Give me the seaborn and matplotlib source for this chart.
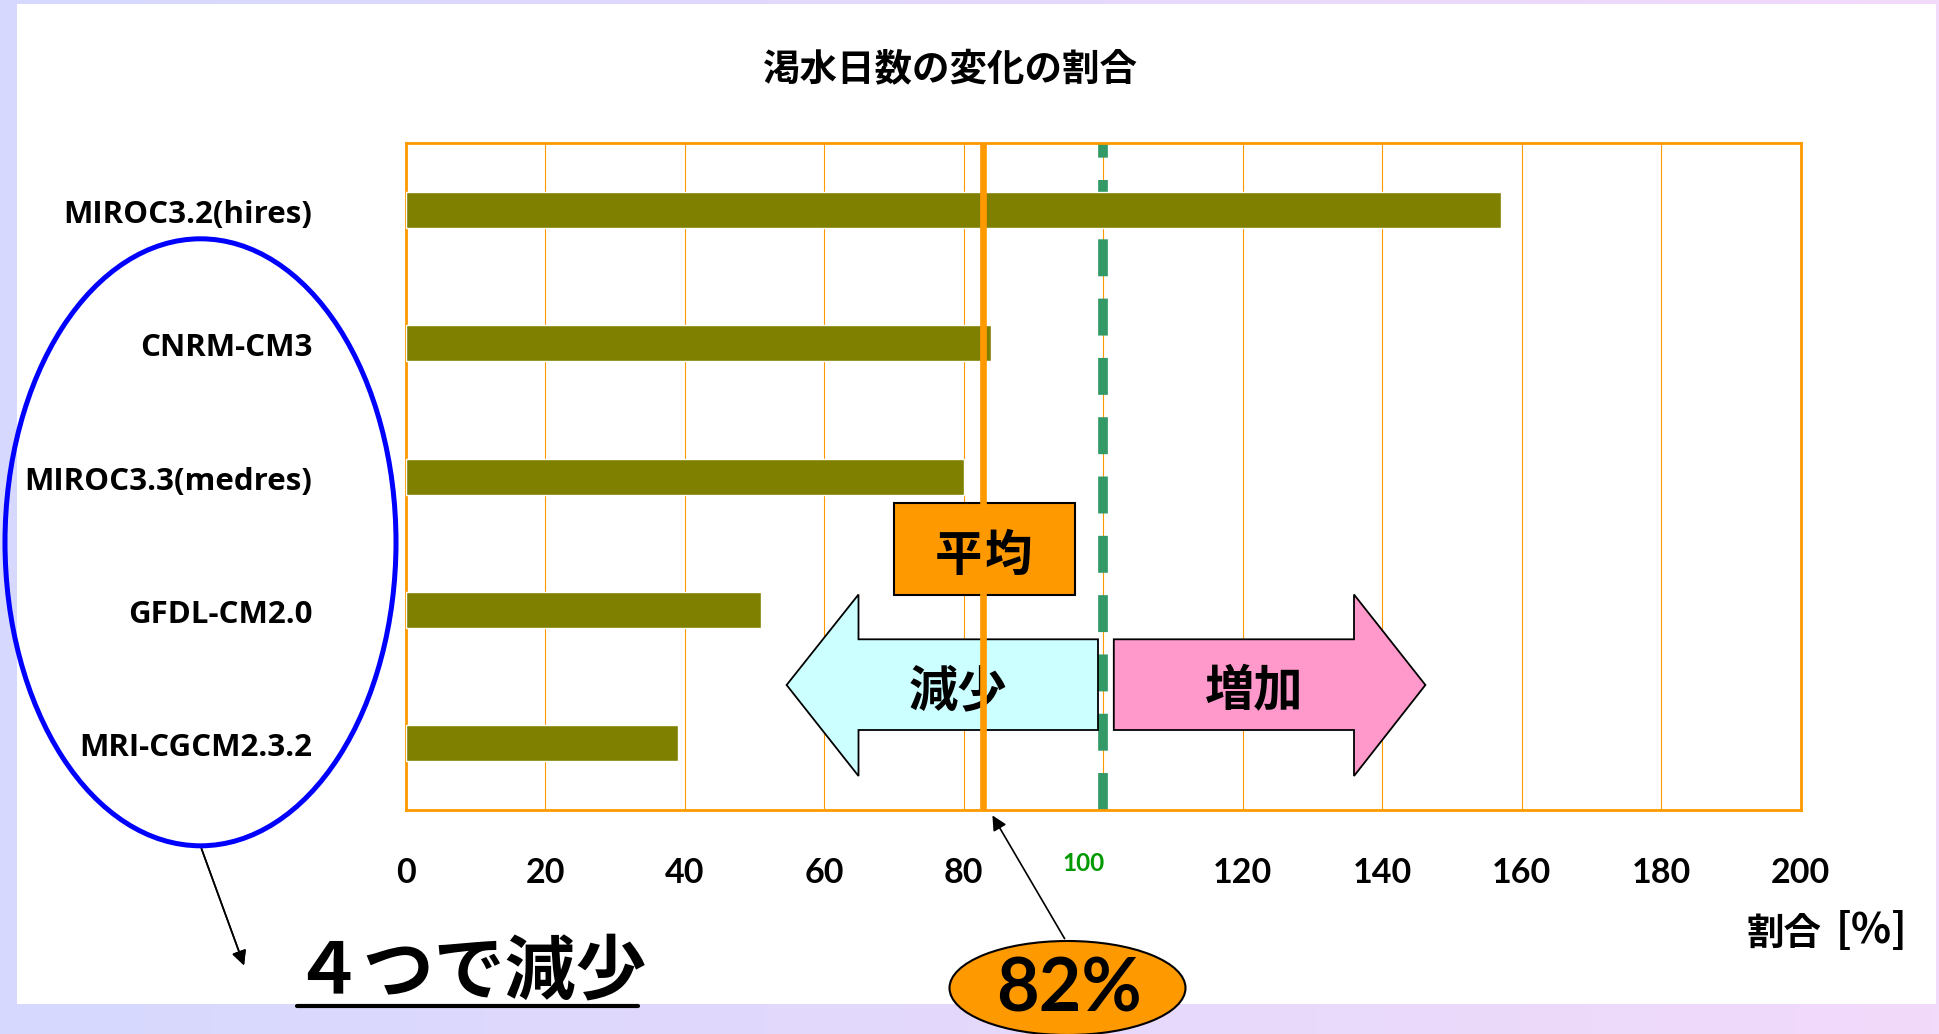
import numpy as np
import pandas as pd
import matplotlib
matplotlib.use("Agg")
import matplotlib.pyplot as plt
import matplotlib.transforms as mtrans
import seaborn as sns
from matplotlib.patches import Rectangle, Ellipse, Polygon
from matplotlib.lines import Line2D
from matplotlib.colors import LinearSegmentedColormap

# ---------------- data ----------------
models = ["MIROC3.2(hires)", "CNRM-CM3", "MIROC3.3(medres)", "GFDL-CM2.0", "MRI-CGCM2.3.2"]
ratios = [157, 84, 80, 51, 39]          # 渇水日数の変化の割合 [%]
mean_line = 82.8                        # 平均 line position as drawn
baseline = 100                          # no-change reference
x_ticks = [0, 20, 40, 60, 80, 100, 120, 140, 160, 180, 200]
x_tick_labels = [str(v) for v in x_ticks]
title = "渇水日数の変化の割合"
xlabel_main = "割合"
xlabel_unit = "[%]"
mean_label = "82%"

# ---------------- style ----------------
sns.set_style("white")
plt.rcParams["font.family"] = ["Noto Sans CJK JP", "DejaVu Sans"]
plt.rcParams.update({"text.color": "black", "xtick.color": "black",
                     "ytick.color": "black", "axes.labelcolor": "black"})

W, H = 1939, 1034
fig = plt.figure(figsize=(W / 100, H / 100), dpi=100)

def fx(px):
    return px / W

def fy(py):
    return 1 - py / H

# background gradient frame
bg = fig.add_axes([0, 0, 1, 1], zorder=-10)
bg.set_axis_off()
grad = np.linspace(0, 1, 256).reshape(1, -1)
cmap = LinearSegmentedColormap.from_list("frame", ["#D6D8FE", "#F2DAFA"])
bg.imshow(grad, aspect="auto", cmap=cmap, extent=[0, 1, 0, 1])
bg.add_patch(Rectangle((fx(17), fy(1004)), fx(1936) - fx(17), fy(4) - fy(1004),
                       facecolor="white", edgecolor="none"))
bg.set_xlim(0, 1)
bg.set_ylim(0, 1)

# main axes
ax_l, ax_r, ax_t, ax_b = 405.6, 1800.5, 143.4, 810.0
ax = fig.add_axes([fx(ax_l), fy(ax_b), (ax_r - ax_l) / W, (ax_b - ax_t) / H], zorder=1)
ax.set_facecolor("white")

df = pd.DataFrame({"model": models, "ratio": ratios})
sns.barplot(data=df, x="ratio", y="model", orient="h", color="#808000",
            saturation=1, width=0.27, ax=ax, zorder=3)

ax.set_xlim(0, 200)
ax.set_ylim(4.5, -0.5)
ax.set_xlabel("")
ax.set_ylabel("")

ax.set_xticks(x_ticks, labels=x_tick_labels)
ax.tick_params(axis="x", length=0, pad=34)
ax.tick_params(axis="y", which="major", length=0, pad=67)
ax.set_yticks([0.5, 1.5, 2.5, 3.5], minor=True)
ax.tick_params(axis="y", which="minor", direction="in", length=7, width=1.5, color="#FFC870")

for lab in ax.get_xticklabels():
    lab.set_fontfamily("Lato")
    lab.set_fontweight("bold")
    lab.set_fontsize(24.5)
    lab.set_color("black")
    if lab.get_text() == "100":
        lab.set_color("#009900")
        lab.set_fontsize(17.5)
        lab.set_transform(lab.get_transform() +
                          mtrans.ScaledTranslation(-20 / 100, 5 / 100, fig.dpi_scale_trans))

for lab in ax.get_yticklabels():
    lab.set_fontfamily("Open Sans")
    lab.set_fontweight("bold")
    lab.set_fontsize(22.5)
    lab.set_color("black")
    lab.set_transform(lab.get_transform() +
                      mtrans.ScaledTranslation(0, -1.5 / 100, fig.dpi_scale_trans))

ax.set_axisbelow(True)
ax.xaxis.grid(True, color="#FF9900", lw=0.8)
ax.yaxis.grid(False)
for s in ax.spines.values():
    s.set_visible(True)
    s.set_color("#FF9900")
    s.set_linewidth(2)

# reference lines
ax.axvline(baseline, color="#339966", lw=7, linestyle=(0, (3.8, 2.3)), zorder=2)
ax.axvline(mean_line, color="#FF9900", lw=4.8, zorder=8)

# annotations in axes fraction coordinates derived from pixel layout
def axf(px, py):
    return ((px - ax_l) / (ax_r - ax_l), (ax_b - py) / (ax_b - ax_t))

left_arrow = [axf(786.6, 685), axf(858.5, 594.5), axf(858.5, 639.3), axf(1098, 639.3),
              axf(1098, 730), axf(858.5, 730), axf(858.5, 776)]
right_arrow = [axf(1425.4, 685), axf(1354, 594.5), axf(1354, 639.3), axf(1113.8, 639.3),
               axf(1113.8, 730), axf(1354, 730), axf(1354, 776)]
ax.add_patch(Polygon(left_arrow, closed=True, facecolor="#CCFFFF", edgecolor="black",
                     lw=1.3, transform=ax.transAxes, zorder=5, clip_on=False))
ax.add_patch(Polygon(right_arrow, closed=True, facecolor="#FF99CC", edgecolor="black",
                     lw=1.3, transform=ax.transAxes, zorder=5, clip_on=False))
bx0, by0 = axf(893.8, 595)
bx1, by1 = axf(1074.6, 503.3)
ax.add_patch(Rectangle((bx0, by0), bx1 - bx0, by1 - by0, facecolor="#FF9900",
                       edgecolor="black", lw=1.5, transform=ax.transAxes, zorder=5))
ax.text(*axf(984, 556), "平均", transform=ax.transAxes, ha="center", va="center",
        fontsize=35.5, fontweight="bold", zorder=6)
ax.text(*axf(958, 692), "減少", transform=ax.transAxes, ha="center", va="center",
        fontsize=35.5, fontweight="bold", zorder=6)
ax.text(*axf(1254.5, 692), "増加", transform=ax.transAxes, ha="center", va="center",
        fontsize=35.5, fontweight="bold", zorder=6)

# title and axis label
fig.text(fx(950), fy(70), title, ha="center", va="center", fontsize=27, fontweight="bold")
fig.text(fx(1784), fy(933), xlabel_main, ha="center", va="center", fontsize=27,
         fontweight="bold")
fig.text(fx(1908), fy(931), xlabel_unit, ha="right", va="center", fontsize=30,
         fontweight="bold")

# blue ellipse around decreasing models
fig.add_artist(Ellipse((fx(200.5), fy(542.3)), 391 / W, 607 / H, transform=fig.transFigure,
                       facecolor="none", edgecolor="#0000FF", lw=3.6, zorder=5))
fig.text(fx(469.5), fy(972), "４つで減少", ha="center", va="center", fontsize=51,
         fontweight="bold", zorder=6)
fig.add_artist(Line2D([fx(297), fx(638)], [fy(1006), fy(1006)], transform=fig.transFigure,
                      color="black", lw=3, zorder=6))
fig.add_artist(plt.annotate("", xy=(245, H - 968), xytext=(200.5, H - 846),
                            xycoords="figure pixels", textcoords="figure pixels",
                            arrowprops=dict(arrowstyle="-|>", color="black", lw=1.2,
                                            mutation_scale=22)))

# mean value callout
fig.add_artist(Ellipse((fx(1067.5), fy(988)), 236 / W, 94 / H, transform=fig.transFigure,
                       facecolor="#FF9900", edgecolor="black", lw=1.5, zorder=5))
fig.text(fx(1069), fy(990), mean_label, ha="center", va="center", fontsize=53,
         fontweight="bold", family="Lato", zorder=6)
ax.annotate("", xy=(991, H - 813), xytext=(1066, H - 941),
            xycoords="figure pixels", textcoords="figure pixels",
            arrowprops=dict(arrowstyle="-|>", color="black", lw=1.2, mutation_scale=22),
            annotation_clip=False, zorder=9)

fig.savefig("out.png", dpi=100)
